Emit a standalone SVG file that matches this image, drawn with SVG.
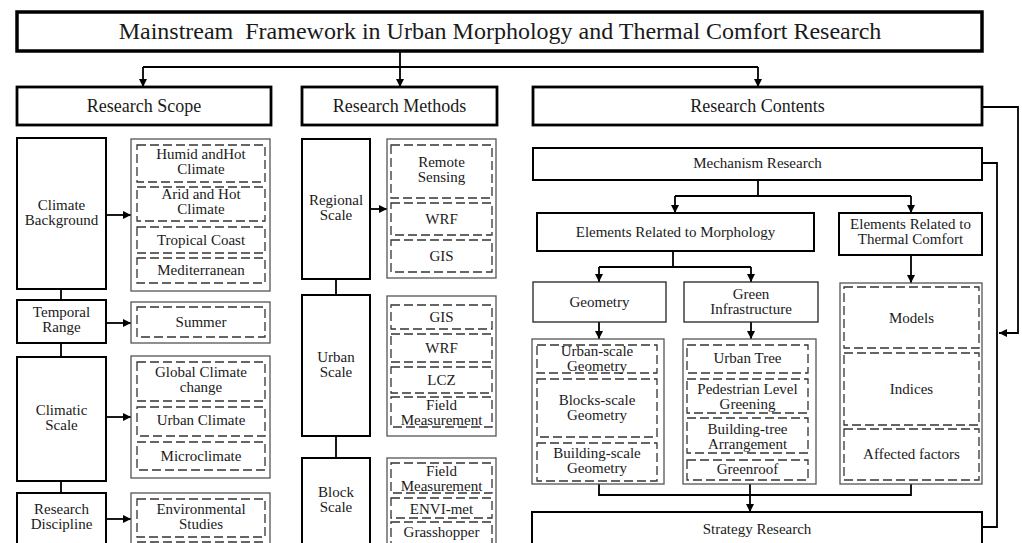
<svg xmlns="http://www.w3.org/2000/svg" width="1022" height="543" viewBox="0 0 1022 543">
<defs>
<marker id="ah" markerUnits="userSpaceOnUse" markerWidth="9" markerHeight="9" refX="8" refY="4" orient="auto"><path d="M0,0 L8,4 L0,8 z" fill="#000"/></marker>
</defs>
<style>
text{font-family:"Liberation Serif","Times New Roman",serif;fill:#1a1a1a;text-anchor:middle;font-size:15px}
.t{font-size:24px;white-space:pre}
.h{font-size:18px}
.title{fill:#fff;stroke:#000;stroke-width:3.5}
.hdr{fill:#fff;stroke:#000;stroke-width:2.8}
.lbl{fill:#fff;stroke:#000;stroke-width:2}
.thin{fill:#fff;stroke:#222;stroke-width:1.3}
.grp{fill:#fff;stroke:#555;stroke-width:1.3}
.dash{fill:#fff;stroke:#333;stroke-width:1.3;stroke-dasharray:9,4}
.c{fill:none;stroke:#000;stroke-width:1.8}
.ca{fill:none;stroke:#000;stroke-width:1.8;marker-end:url(#ah)}
</style>
<rect width="1022" height="543" fill="#fff"/>

<g id="connectors">
<path class="ca" d="M400,51 V87"/>
<path class="c" d="M143,67 H758"/>
<path class="ca" d="M143,67 V87"/>
<path class="ca" d="M758,67 V87"/>
<path class="ca" d="M982,107 H1018 V333 H999"/>
<path class="c" d="M982,163 H997 V527 H982"/>
<path class="c" d="M61,289 V300 M61,343 V357 M61,481 V493"/>
<path class="ca" d="M106,215 H131"/>
<path class="ca" d="M106,323 H131"/>
<path class="ca" d="M106,417 H131"/>
<path class="ca" d="M106,519 H131"/>
<path class="c" d="M336,279 V295 M336,436 V458"/>
<path class="ca" d="M370,209 H387"/>
<path class="c" d="M758,180 V196 M675,196 H911"/>
<path class="ca" d="M675,196 V213"/>
<path class="ca" d="M911,196 V213"/>
<path class="c" d="M673,251 V267 M599,267 H751"/>
<path class="ca" d="M599,267 V282"/>
<path class="ca" d="M751,267 V282"/>
<path class="ca" d="M599,322 V339"/>
<path class="ca" d="M751,322 V339"/>
<path class="ca" d="M911,255 V283"/>
<path class="c" d="M599,484 V495 H911 V484"/>
<path class="ca" d="M750,484 V512"/>
</g>

<g id="title"><rect class="title" x="17" y="12" width="965" height="39"/><text class="t" x="500" y="39" xml:space="preserve">Mainstream  Framework in Urban Morphology and Thermal Comfort Research</text></g>
<g id="research-scope"><rect class="hdr" x="17" y="87" width="254" height="38"/><text class="h" x="144" y="112">Research Scope</text></g>
<g id="research-methods"><rect class="hdr" x="302" y="87" width="195" height="38"/><text class="h" x="399.5" y="112">Research Methods</text></g>
<g id="research-contents"><rect class="hdr" x="533" y="87" width="449" height="38"/><text class="h" x="757.5" y="112">Research Contents</text></g>

<!-- Left column -->
<g id="climate-background"><rect class="lbl" x="17" y="138" width="89" height="151"/><text x="61.5" y="210">Climate</text><text x="61.5" y="225">Background</text></g>
<g id="climate-background-items">
<rect class="grp" x="131" y="139" width="139" height="152"/>
<rect class="dash" x="137" y="145" width="128" height="37"/><text x="201" y="159">Humid andHot</text><text x="201" y="174">Climate</text>
<rect class="dash" x="137" y="187" width="128" height="34"/><text x="201" y="199">Arid and Hot</text><text x="201" y="214">Climate</text>
<rect class="dash" x="137" y="227" width="128" height="26"/><text x="201" y="245">Tropical Coast</text>
<rect class="dash" x="137" y="258" width="128" height="25"/><text x="201" y="275">Mediterranean</text>
</g>
<g id="temporal-range"><rect class="lbl" x="17" y="300" width="89" height="43"/><text x="61.5" y="317">Temporal</text><text x="61.5" y="332">Range</text></g>
<g id="temporal-range-items">
<rect class="grp" x="131" y="302" width="139" height="41"/>
<rect class="dash" x="137" y="307" width="128" height="30"/><text x="201" y="327">Summer</text>
</g>
<g id="climatic-scale"><rect class="lbl" x="17" y="357" width="89" height="124"/><text x="61.5" y="415">Climatic</text><text x="61.5" y="430">Scale</text></g>
<g id="climatic-scale-items">
<rect class="grp" x="131" y="356" width="139" height="122"/>
<rect class="dash" x="137" y="362" width="128" height="39"/><text x="201" y="377">Global Climate</text><text x="201" y="392">change</text>
<rect class="dash" x="137" y="407" width="128" height="29"/><text x="201" y="425">Urban Climate</text>
<rect class="dash" x="137" y="442" width="128" height="28"/><text x="201" y="461">Microclimate</text>
</g>
<g id="research-discipline"><rect class="lbl" x="17" y="493" width="89" height="60"/><text x="61.5" y="514">Research</text><text x="61.5" y="529">Discipline</text></g>
<g id="research-discipline-items">
<rect class="grp" x="131" y="493" width="139" height="60"/>
<rect class="dash" x="137" y="499" width="128" height="38"/><text x="201" y="514">Environmental</text><text x="201" y="529">Studies</text>
<rect class="dash" x="137" y="542" width="128" height="20"/>
</g>

<!-- Middle column -->
<g id="regional-scale"><rect class="lbl" x="302" y="139" width="68" height="140"/><text x="336" y="205">Regional</text><text x="336" y="220">Scale</text></g>
<g id="regional-scale-items">
<rect class="grp" x="387" y="139" width="109" height="139"/>
<rect class="dash" x="391" y="145" width="101" height="53"/><text x="441.5" y="167">Remote</text><text x="441.5" y="182">Sensing</text>
<rect class="dash" x="391" y="203" width="101" height="32"/><text x="441.5" y="224">WRF</text>
<rect class="dash" x="391" y="240" width="101" height="32"/><text x="441.5" y="261">GIS</text>
</g>
<g id="urban-scale"><rect class="lbl" x="302" y="295" width="68" height="141"/><text x="336" y="362">Urban</text><text x="336" y="377">Scale</text></g>
<g id="urban-scale-items">
<rect class="grp" x="387" y="296" width="109" height="140"/>
<rect class="dash" x="391" y="305" width="101" height="24"/><text x="441.5" y="322">GIS</text>
<rect class="dash" x="391" y="334" width="101" height="28"/><text x="441.5" y="353">WRF</text>
<rect class="dash" x="391" y="367" width="101" height="26"/><text x="441.5" y="385">LCZ</text>
<rect class="dash" x="391" y="397" width="101" height="30"/><text x="441.5" y="410">Field</text><text x="441.5" y="425">Measurement</text>
</g>
<g id="block-scale"><rect class="lbl" x="302" y="458" width="68" height="95"/><text x="336" y="497">Block</text><text x="336" y="512">Scale</text></g>
<g id="block-scale-items">
<rect class="grp" x="387" y="458" width="109" height="95"/>
<rect class="dash" x="391" y="463" width="101" height="30"/><text x="441.5" y="476">Field</text><text x="441.5" y="491">Measurement</text>
<rect class="dash" x="391" y="498" width="101" height="20"/><text x="441.5" y="514">ENVI-met</text>
<rect class="dash" x="391" y="522" width="101" height="30"/><text x="441.5" y="537">Grasshopper</text>
</g>

<!-- Right column -->
<g id="mechanism-research"><rect class="lbl" x="533" y="148" width="449" height="32"/><text x="757.5" y="168">Mechanism Research</text></g>
<g id="elements-morphology"><rect class="lbl" x="537" y="213" width="277" height="38"/><text x="675.5" y="237">Elements Related to Morphology</text></g>
<g id="elements-thermal"><rect class="lbl" x="839" y="213" width="143" height="42"/><text x="910.5" y="229">Elements Related to</text><text x="910.5" y="244">Thermal Comfort</text></g>
<g id="geometry"><rect class="thin" x="533" y="282" width="133" height="40"/><text x="599.5" y="307">Geometry</text></g>
<g id="green-infrastructure"><rect class="thin" x="684" y="282" width="134" height="40"/><text x="751" y="299">Green</text><text x="751" y="314">Infrastructure</text></g>
<g id="geometry-items">
<rect class="grp" x="532" y="339" width="132" height="145"/>
<rect class="dash" x="537" y="345" width="120" height="28"/><text x="597" y="356">Urban-scale</text><text x="597" y="371">Geometry</text>
<rect class="dash" x="537" y="379" width="120" height="58"/><text x="597" y="405">Blocks-scale</text><text x="597" y="420">Geometry</text>
<rect class="dash" x="537" y="443" width="120" height="38"/><text x="597" y="458">Building-scale</text><text x="597" y="473">Geometry</text>
</g>
<g id="green-items">
<rect class="grp" x="683" y="339" width="133" height="145"/>
<rect class="dash" x="687" y="345" width="121" height="28"/><text x="747.5" y="363">Urban Tree</text>
<rect class="dash" x="687" y="379" width="121" height="34"/><text x="747.5" y="394">Pedestrian Level</text><text x="747.5" y="409">Greening</text>
<rect class="dash" x="687" y="418" width="121" height="35"/><text x="747.5" y="434">Building-tree</text><text x="747.5" y="449">Arrangement</text>
<rect class="dash" x="687" y="460" width="121" height="20"/><text x="747.5" y="474">Greenroof</text>
</g>
<g id="thermal-items">
<rect class="grp" x="840" y="283" width="142" height="201"/>
<rect class="dash" x="844" y="287" width="135" height="61"/><text x="911.5" y="323">Models</text>
<rect class="dash" x="844" y="353" width="135" height="72"/><text x="911.5" y="394">Indices</text>
<rect class="dash" x="844" y="429" width="135" height="51"/><text x="911.5" y="459">Affected factors</text>
</g>
<g id="strategy-research"><rect class="lbl" x="532" y="512" width="450" height="45"/><text x="757" y="534">Strategy Research</text></g>
</svg>
